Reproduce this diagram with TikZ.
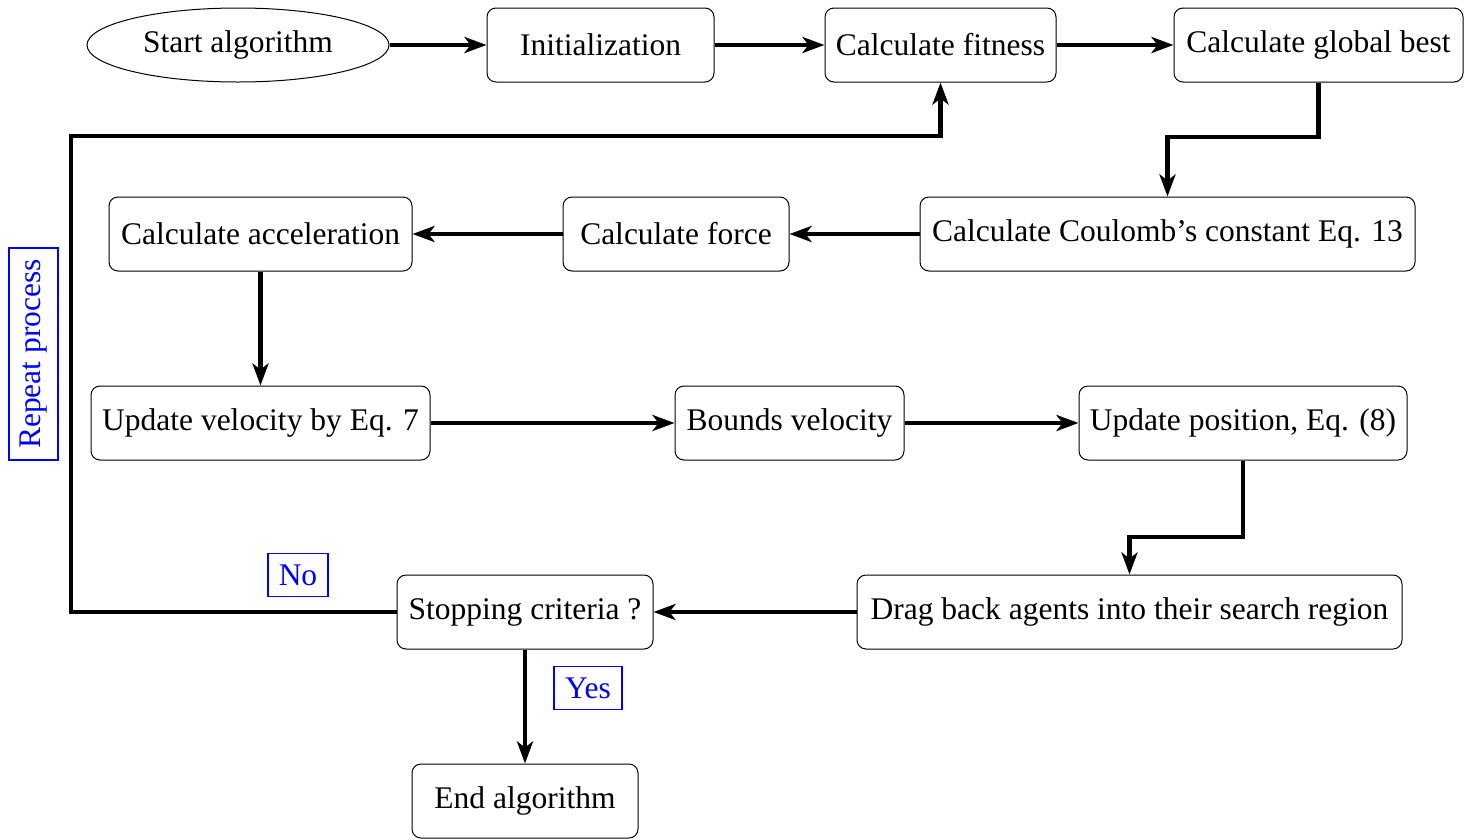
\documentclass[tikz,border=0pt]{standalone}
\usepackage{fontspec}
\setmainfont{Liberation Serif}
\usetikzlibrary{arrows.meta,shapes.geometric}
\begin{document}
\begin{tikzpicture}[x=1pt,y=-1pt,
  every node/.style={font=\fontsize{31.5}{36}\selectfont, inner sep=0pt},
  box/.style={draw, rounded corners=9pt, line width=1pt, minimum height=74pt},
  lbl/.style={draw=blue, text=blue, line width=1.4pt},
  arr/.style={line width=4.8pt, -{Stealth[length=22pt,width=16pt,inset=6pt]}}]
\useasboundingbox (0,0) rectangle (1476,839);
\node[draw, ellipse, line width=1pt, minimum width=302pt, minimum height=74pt] (start) at (238,45) {Start algorithm};
\node[box, minimum width=227pt] (init) at (600.5,45) {Initialization};
\node[box, minimum width=231pt] (fit) at (940.5,45) {Calculate fitness};
\node[box, minimum width=289pt] (glob) at (1318.5,45) {Calculate global best};
\node[box, minimum width=495pt] (coul) at (1167.5,234) {Calculate Coulomb's constant Eq. 13};
\node[box, minimum width=226pt] (force) at (676,234) {Calculate force};
\node[box, minimum width=303pt] (acc) at (260.5,234) {Calculate acceleration};
\node[box, minimum width=339pt] (vel) at (260.5,423) {Update velocity by Eq. 7};
\node[box, minimum width=229pt] (bnd) at (789.5,423) {Bounds velocity};
\node[box, minimum width=328pt] (pos) at (1243,423) {Update position, Eq. (8)};
\node[box, minimum width=545pt] (drag) at (1129.5,612) {Drag back agents into their search region};
\node[box, minimum width=256pt] (stop) at (525,612) {Stopping criteria ?};
\node[box, minimum width=226pt] (end) at (525,801) {End algorithm};
\node[lbl, rotate=90, minimum width=212pt, minimum height=49pt] (rep) at (33.5,354) {Repeat process};
\node[lbl, minimum width=60pt, minimum height=43pt] (no) at (298,575) {No};
\node[lbl, minimum width=68pt, minimum height=43pt] (yes) at (588,688) {Yes};
\coordinate (k1) at (glob.south |- 0,137);
\coordinate (k2) at (pos.south |- 0,537);
\coordinate (k3) at (71,136);
\draw[arr] (start) -- (init);
\draw[arr] (init) -- (fit);
\draw[arr] (fit) -- (glob);
\draw[arr] (glob.south) -- (k1) -| (coul.north);
\draw[arr] (coul) -- (force);
\draw[arr] (force) -- (acc);
\draw[arr] (acc) -- (vel);
\draw[arr] (vel) -- (bnd);
\draw[arr] (bnd) -- (pos);
\draw[arr] (pos.south) -- (k2) -| (drag.north);
\draw[arr] (drag) -- (stop);
\draw[arr] (stop) -- (end);
\draw[arr] (stop.west) -| (k3) -| (fit.south);
\end{tikzpicture}
\end{document}
